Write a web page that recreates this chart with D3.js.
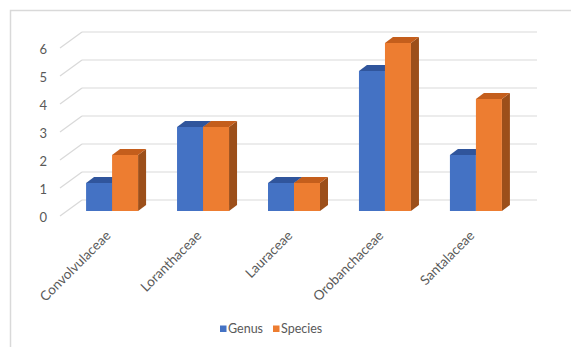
<!DOCTYPE html>
<html><head><meta charset="utf-8">
<script src="https://cdn.jsdelivr.net/npm/d3@7"></script>
<style>body{margin:0;background:#fff}svg{display:block}text{font-family:Lato,"Open Sans",sans-serif;fill:#595959}</style>
</head><body><svg id="c" width="571" height="347"></svg>
<script>
const categories = ["Convolvulaceae","Loranthaceae","Lauraceae","Orobanchaceae","Santalaceae"];
const seriesNames = ["Genus","Species"];
const genus = [1,3,1,5,2];
const species = [2,3,1,6,4];
const yTicks = [0,1,2,3,4,5,6];

const colors = {Genus:{front:"#4472C4",top:"#30559C",side:"#2E5190"},
                Species:{front:"#ED7D31",top:"#C45E1C",side:"#9C4F1A"}};
const svg = d3.select("#c");
const grid = "#d9d9d9";

// outer border
svg.append("path").attr("d","M10.5,347 L10.5,10.5 L571,10.5").attr("fill","none").attr("stroke",grid).attr("stroke-width",1.5);

const y = d3.scaleLinear().domain([0,6]).range([211,43]);
const x = d3.scaleBand().domain(categories).range([66.6,521.4]);
const xs = d3.scaleBand().domain(seriesNames).range([-26,26]);
const depth = {dx:8, dy:-6};
const back = {dx:0, dy:-11, x0:82, x1:537};
const front = {dx:-22, dy:5};

// gridlines
const g = svg.append("g");
yTicks.forEach(v=>{
  const yb = y(v)+back.dy;
  g.append("line").attr("x1",back.x0).attr("x2",back.x1).attr("y1",yb).attr("y2",yb).attr("stroke",grid).attr("stroke-width",1.2);
  g.append("line").attr("x1",back.x0).attr("y1",yb).attr("x2",back.x0+front.dx).attr("y2",y(v)+front.dy).attr("stroke",grid).attr("stroke-width",1.2);
  svg.append("text").attr("x",47).attr("y",y(v)+front.dy+1).attr("dy","0.35em").attr("text-anchor","end").attr("font-size",13).text(v);
});

// bars
const data = categories.map((c,i)=>({c, vals:[{s:"Genus",v:genus[i]},{s:"Species",v:species[i]}]}));
data.forEach(d=>{
  const cx = x(d.c)+x.bandwidth()/2;
  d.vals.forEach(b=>{
    const x0 = cx + xs(b.s), w = xs.bandwidth();
    const yt = y(b.v), yb = y(0);
    const col = colors[b.s];
    svg.append("path").attr("d",`M${x0+w},${yt} L${x0+w+depth.dx},${yt+depth.dy} L${x0+w+depth.dx},${yb+depth.dy} L${x0+w},${yb} Z`).attr("fill",col.side);
    svg.append("path").attr("d",`M${x0},${yt} L${x0+depth.dx},${yt+depth.dy} L${x0+w+depth.dx},${yt+depth.dy} L${x0+w},${yt} Z`).attr("fill",col.top);
    svg.append("rect").attr("x",x0).attr("y",yt).attr("width",w).attr("height",yb-yt).attr("fill",col.front);
  });
});

// category labels
categories.forEach(c=>{
  const cx = x(c)+x.bandwidth()/2 - 4;
  svg.append("text").attr("transform",`translate(${cx},233) rotate(-45)`).attr("text-anchor","end").attr("dy","0.35em").attr("font-size",13.5).text(c);
});

// legend
const leg = [{s:"Genus",x:220},{s:"Species",x:273}];
leg.forEach(l=>{
  svg.append("rect").attr("x",l.x).attr("y",325.5).attr("width",6.5).attr("height",6.5).attr("fill",colors[l.s].front);
  svg.append("text").attr("x",l.x+8).attr("y",329).attr("dy","0.35em").attr("font-size",12.5).text(l.s);
});
</script></body></html>
